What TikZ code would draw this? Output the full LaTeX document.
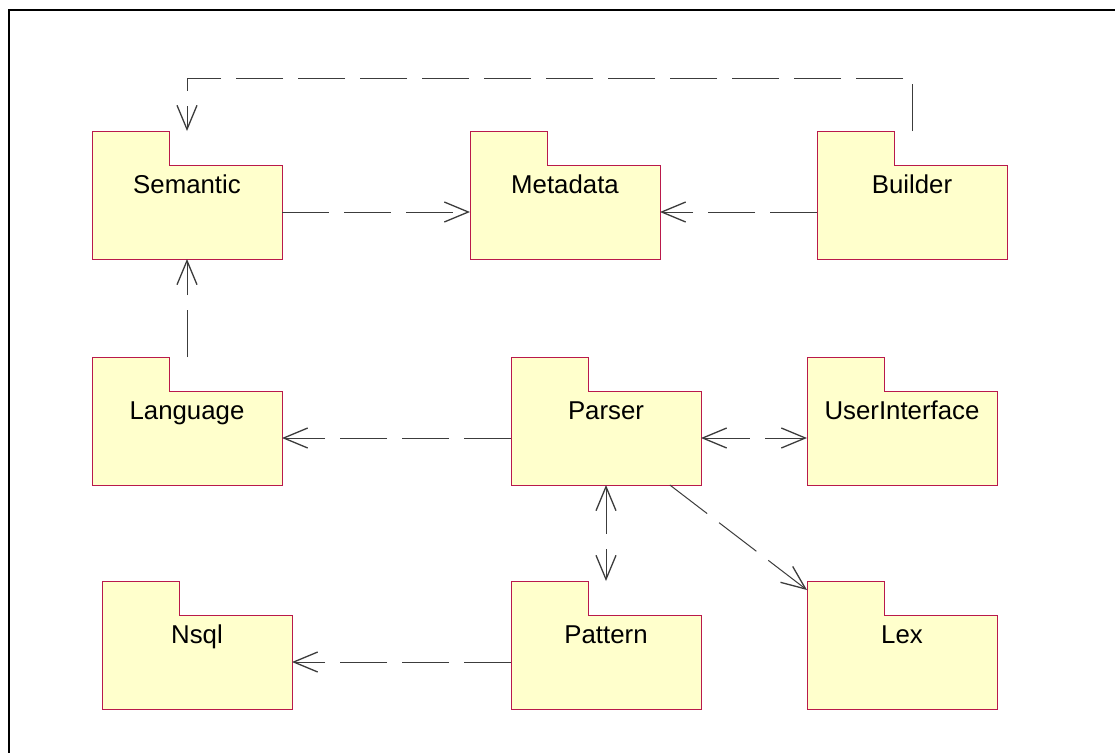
\documentclass[tikz,border=0pt]{standalone}
\usepackage{fontspec}
\setmainfont{Liberation Sans}
\usetikzlibrary{arrows.meta,calc}
\definecolor{pkgfill}{RGB}{255,255,204}
\definecolor{pkgedge}{RGB}{185,25,75}
\definecolor{depline}{RGB}{60,60,60}
\tikzset{
  pkgbody/.style={rectangle, fill=pkgfill, draw=none, minimum width=190pt, minimum height=94pt, inner sep=0pt, outer sep=0pt},
  pkgtab/.style={rectangle, fill=pkgfill, draw=none, minimum width=77pt, minimum height=34pt, inner sep=0pt, outer sep=0pt},
  pkgline/.style={draw=pkgedge, line width=1pt},
  pkglabel/.style={anchor=base, inner sep=0pt, font=\fontsize{25.8pt}{30pt}\selectfont},
  barb/.tip={Straight Barb[length=24pt,width=20pt,line width=1.3pt]},
  dep/.style={draw=depline, line width=1pt, dash pattern=on 47pt off 15pt, -barb},
  dep2/.style={draw=depline, line width=1pt, dash pattern=on 47pt off 15pt, barb-barb},
}
\newcommand{\umlpkg}[4]{%
  \node[pkgbody, anchor=north west] (#1body) at (#2,#3+34) {};
  \node[pkgtab, anchor=south west] (#1tab) at (#1body.north west) {};
  \draw[pkgline] (#1body.south west) -- (#1tab.north west) -- (#1tab.north east) -- (#1tab.south east) -- (#1body.north east) -- (#1body.south east) -- cycle;
  \node[pkglabel] (#1label) at ($(#1body.north)+(0,28)$) {#4};
}
\begin{document}
\begin{tikzpicture}[x=1pt,y=-1pt]
\useasboundingbox (0,0) rectangle (1115,753);
\fill[white] (0,0) rectangle (1115,753);
\draw[line width=2pt, black] (1115,9.5) -- (8.5,9.5) -- (8.5,753);

\umlpkg{semantic}{92}{131}{Semantic}
\umlpkg{metadata}{470}{131}{Metadata}
\umlpkg{builder}{817}{131}{Builder}
\umlpkg{language}{92}{357}{Language}
\umlpkg{parser}{511}{357}{Parser}
\umlpkg{ui}{807}{357}{UserInterface}
\umlpkg{nsql}{102}{581}{Nsql}
\umlpkg{pattern}{511}{581}{Pattern}
\umlpkg{lex}{807}{581}{Lex}

\coordinate (bstart) at (builderbody.north |- buildertab.north);
\coordinate (send) at (semanticbody.north |- semantictab.north);
\draw[dep] (bstart) -- ($(bstart)+(0,-53)$) -| (send);

\draw[dep] (semanticbody.east) -- (metadatabody.west);
\draw[dep] (builderbody.west) -- (metadatabody.east);
\draw[dep] (languagebody.north |- languagetab.north) -- (semanticbody.south);
\draw[dep] (parserbody.west) -- (languagebody.east);
\draw[dep2] (parserbody.east) -- (uibody.west);
\draw[dep2] (parserbody.south) -- (patternbody.north |- patterntab.north);
\draw[dep] ($(parserbody.south west)!0.836!(parserbody.south east)$) -- ($(lextab.north west)+(0,9)$);
\draw[dep] (patternbody.west) -- (nsqlbody.east);
\end{tikzpicture}
\end{document}
